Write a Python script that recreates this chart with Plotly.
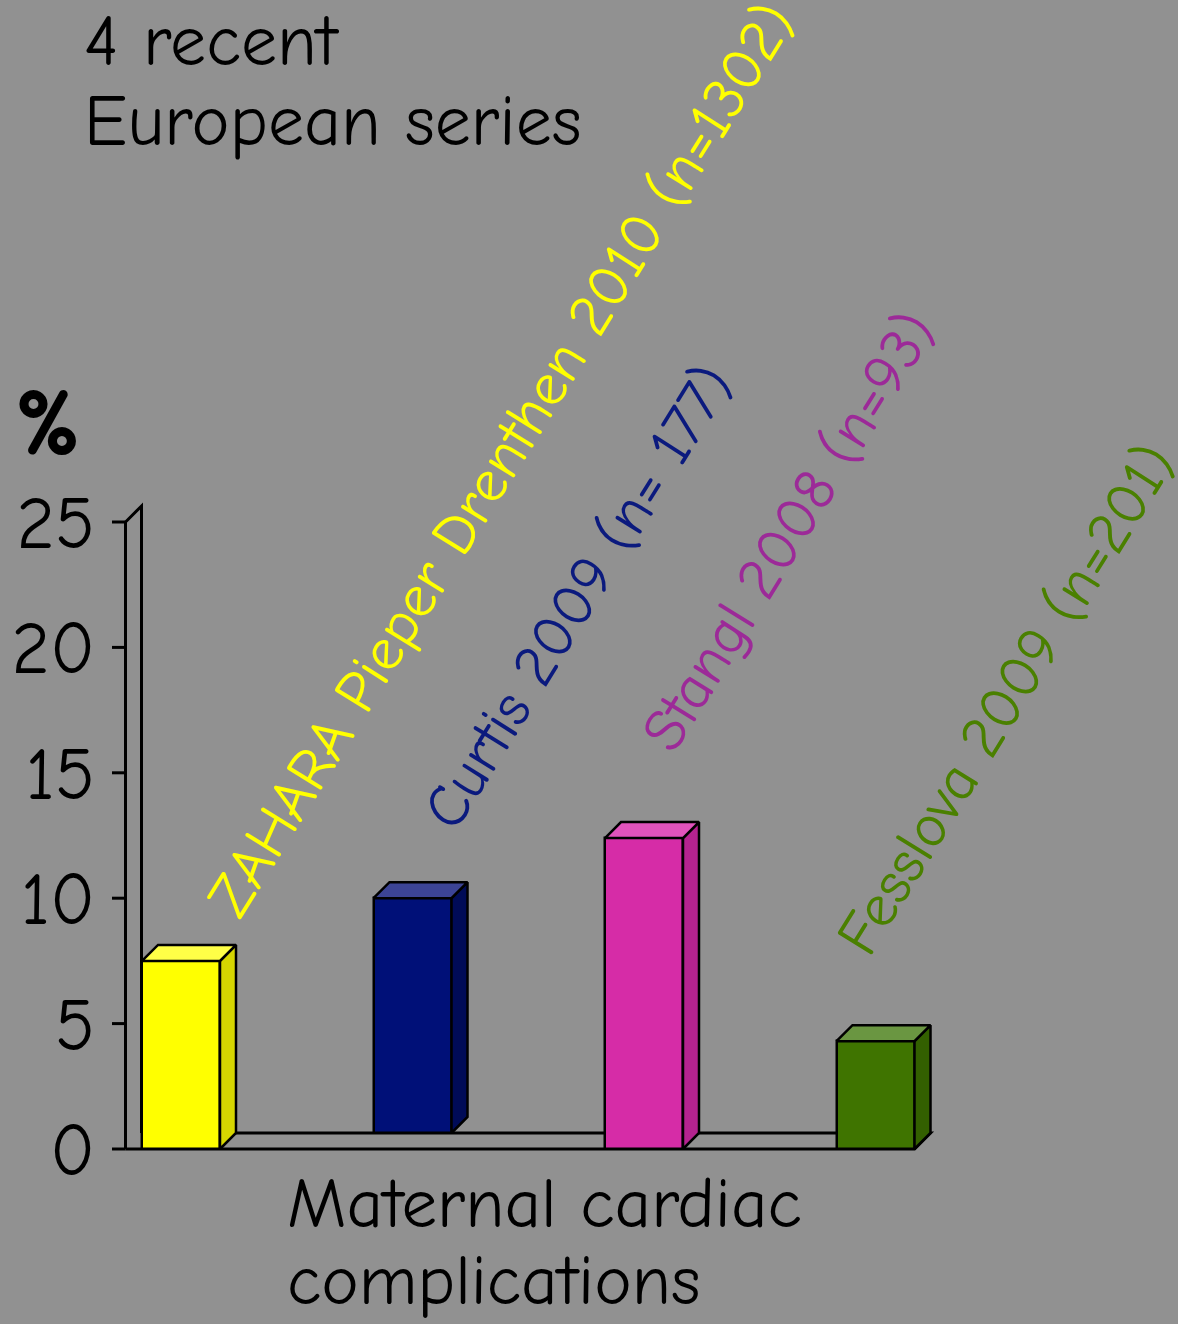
import plotly.graph_objects as go

# ---------------- data ----------------
studies = ["ZAHARA Pieper Drenthen 2010 (n=1302)",
           "Curtis 2009 (n= 177)",
           "Stangl 2008 (n=93)",
           "Fesslova 2009 (n=201)"]
values = [7.5, 10.0, 12.4, 4.3]
y_ticks = [0, 5, 10, 15, 20, 25]
title_lines = ["4 recent", "European series"]
xtitle_lines = ["Maternal cardiac", "complications"]
unit_text = "%"

# ---------------- styles ----------------
front_colors = ["#FFFF00", "#001078", "#D62CA7", "#3F7400"]
side_colors = ["#D6D600", "#000B57", "#B4238F", "#336000"]
top_colors = ["#FFFF47", "#3C4496", "#E153BC", "#6A9641"]
label_colors = ["#FFFF00", "#0B1A7E", "#9C2A98", "#4A8000"]
label_shift = [(10, 13), (-6, 38), (-19, 56), (-55, 55)]   # px offsets of labels
bar_lifted = [False, True, False, False]                   # navy bar stands at the back of the floor
BG = "#919191"
FONT = "Comic Sans MS, Comic Neue, Noto Sans, DejaVu Sans, sans-serif"
W, H = 1178, 1324
ML = 112

# pixel geometry of the axes
PX_Y0, PX_PER_Y = 1149, 25.08
PX_X0, PX_PER_X = 181, 231.5
y_range = [-(H - PX_Y0) / PX_PER_Y, PX_Y0 / PX_PER_Y]
x_range = [(ML - PX_X0) / PX_PER_X, (W - PX_X0) / PX_PER_X]
HW = 39 / PX_PER_X          # half bar width
DX = 16 / PX_PER_X          # depth offset
DY = 16 / PX_PER_Y
AX = (125.5 - PX_X0) / PX_PER_X   # front axis position
AXT = (ML - PX_X0) / PX_PER_X     # tick start
YMAX = y_ticks[-1]

xpos = list(range(len(values)))
bases = [DY if f else 0 for f in bar_lifted]

fig = go.Figure()

# front faces
fig.add_trace(go.Bar(
    x=xpos, y=[v - b for v, b in zip(values, bases)], base=bases,
    width=2 * HW, marker=dict(color=front_colors, line=dict(color="black", width=2.5)),
    hoverinfo="skip", showlegend=False))

# side and top faces
for i, (x, v, b) in enumerate(zip(xpos, values, bases)):
    sx = [x + HW, x + HW + DX, x + HW + DX, x + HW, x + HW]
    sy = [b, b + DY, v + DY, v, b]
    fig.add_trace(go.Scatter(x=sx, y=sy, fill="toself", fillcolor=side_colors[i], mode="lines",
                             line=dict(color="black", width=2.5), hoverinfo="skip", showlegend=False))
    tx = [x - HW, x - HW + DX, x + HW + DX, x + HW, x - HW]
    ty = [v, v + DY, v + DY, v, v]
    fig.add_trace(go.Scatter(x=tx, y=ty, fill="toself", fillcolor=top_colors[i], mode="lines",
                             line=dict(color="black", width=2.5), hoverinfo="skip", showlegend=False))

shapes = []
# floor (back edge, right edge, front edge)
x_end = xpos[-1] + HW
shapes.append(dict(type="path", xref="x", yref="y", layer="below",
                   path=f"M {AX+DX},{DY} L {x_end+DX},{DY} L {x_end},0 L {AX},0",
                   line=dict(color="black", width=3)))
# wall / axis lines
shapes.append(dict(type="path", xref="x", yref="y", layer="below",
                   path=f"M {AX+DX},{DY} L {AX+DX},{YMAX+DY} L {AX},{YMAX} L {AX},0",
                   line=dict(color="black", width=3)))
for t in y_ticks:
    shapes.append(dict(type="line", xref="x", yref="y", layer="below",
                       x0=AXT, x1=AX, y0=t, y1=t, line=dict(color="black", width=3)))

annotations = []
for i, (x, v) in enumerate(zip(xpos, values)):
    annotations.append(dict(x=x, y=v + DY, xref="x", yref="y", text=studies[i],
                            textangle=-58.3, xanchor="left", yanchor="bottom", showarrow=False,
                            xshift=label_shift[i][0], yshift=label_shift[i][1],
                            font=dict(family=FONT, size=60.5, color=label_colors[i])))


def px_x(px):
    return (px - ML) / (W - ML)


def px_y(px):
    return 1 - px / H


for line, top in zip(title_lines, [-2, 78]):
    annotations.append(dict(x=px_x(82), y=px_y(top), xref="paper", yref="paper",
                            text=line, align="left", xanchor="left", yanchor="top",
                            showarrow=False, font=dict(family=FONT, size=72, color="black")))
annotations.append(dict(x=px_x(13), y=px_y(366), xref="paper", yref="paper",
                        text="<b>" + unit_text + "</b>", xanchor="left", yanchor="top",
                        showarrow=False, font=dict(family=FONT, size=96, color="black")))
for line, top in zip(xtitle_lines, [1161, 1238]):
    annotations.append(dict(x=px_x(285), y=px_y(top), xref="paper", yref="paper",
                            text=line, align="left", xanchor="left", yanchor="top",
                            showarrow=False, font=dict(family=FONT, size=71, color="black")))

fig.update_layout(
    width=W, height=H, margin=dict(l=ML, r=0, t=0, b=0),
    paper_bgcolor=BG, plot_bgcolor=BG, showlegend=False, bargap=0,
    xaxis=dict(range=x_range, visible=False, fixedrange=True),
    yaxis=dict(range=y_range, tickvals=y_ticks, ticktext=[str(t) for t in y_ticks],
               showgrid=False, zeroline=False, showline=False, ticks="",
               ticklabelstandoff=16, tickfont=dict(family=FONT, size=74, color="black"),
               fixedrange=True),
    shapes=shapes, annotations=annotations,
)

fig.write_html("out.html", config={"displayModeBar": False},
               post_script="document.body.style.margin='0px';")
